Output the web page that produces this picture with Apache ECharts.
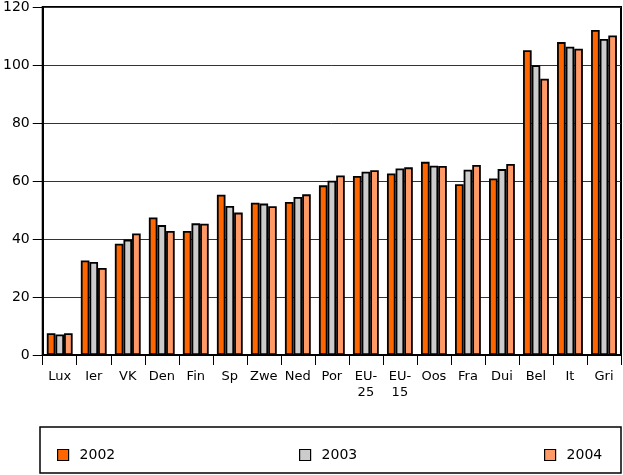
<!DOCTYPE html>
<html>
<head>
<meta charset="utf-8">
<script src="https://cdn.jsdelivr.net/npm/echarts@6/dist/echarts.min.js"></script>
<style>
html,body{margin:0;padding:0;background:#fff;}
#c{width:623px;height:475px;}
</style>
</head>
<body>
<div id="c"></div>
<script>
const categories = ['Lux','Ier','VK','Den','Fin','Sp','Zwe','Ned','Por','EU-\n25','EU-\n15','Oos','Fra','Dui','Bel','It','Gri'];
const seriesNames = ['2002','2003','2004'];
const values2002 = [7.5, 32.6, 38.4, 47.4, 42.8, 55.3, 52.5, 52.8, 58.5, 61.7, 62.6, 66.6, 58.9, 60.9, 105.1, 107.9, 112.1];
const values2003 = [7.1, 32.1, 39.8, 44.8, 45.4, 51.4, 52.2, 54.5, 60.1, 63.2, 64.3, 65.3, 63.9, 64.1, 99.9, 106.3, 109.0];
const values2004 = [7.5, 30.0, 41.9, 42.8, 45.3, 49.1, 51.3, 55.4, 61.9, 63.7, 64.7, 65.2, 65.5, 65.9, 95.3, 105.6, 110.2];
const yTicks = {min: 0, max: 120, interval: 20};
const colors = ['#FF6600', '#CCCCCC', '#FF9966'];

const font = 'DejaVu Sans';
const chart = echarts.init(document.getElementById('c'), null, {renderer: 'canvas'});
const data = [values2002, values2003, values2004];
chart.setOption({
  animation: false,
  backgroundColor: '#fff',
  grid: {left: 40, right: 2, top: 5, bottom: 120, show: true, borderColor: '#000', borderWidth: 2, backgroundColor: 'transparent'},
  xAxis: {
    type: 'category',
    data: categories,
    boundaryGap: true,
    axisLine: {lineStyle: {color: '#000', width: 2}},
    axisTick: {show: true, length: 10, lineStyle: {color: '#000', width: 1}},
    axisLabel: {color: '#000', fontFamily: font, fontSize: 13, margin: 14, lineHeight: 16, interval: 0}
  },
  yAxis: {
    type: 'value',
    min: yTicks.min, max: yTicks.max, interval: yTicks.interval,
    axisLine: {show: true, lineStyle: {color: '#000', width: 2}},
    axisTick: {show: true, length: 10, lineStyle: {color: '#000', width: 1}},
    axisLabel: {color: '#000', fontFamily: font, fontSize: 14, margin: 13},
    splitLine: {show: true, lineStyle: {color: '#333', width: 1}}
  },
  legend: [0,1,2].map(i => ({
    data: [seriesNames[i]],
    left: [52, 294, 539][i],
    top: 443,
    itemWidth: 11,
    itemHeight: 11,
    icon: 'rect',
    itemStyle: {borderColor: '#000', borderWidth: 1.2},
    textStyle: {color: '#000', fontFamily: font, fontSize: 14, padding: [0,0,0,6]}
  })),
  graphic: [{
    type: 'rect',
    shape: {x: 40, y: 427, width: 581, height: 46},
    style: {fill: 'none', stroke: '#000', lineWidth: 1.5},
    silent: true, z: -1
  }],
  series: [0,1,2].map(i => ({
    name: seriesNames[i],
    type: 'bar',
    data: data[i],
    barGap: '0%',
    barCategoryGap: '24%',
    itemStyle: {color: colors[i], borderColor: '#000', borderWidth: 1.8}
  }))
});
</script>
</body>
</html>
